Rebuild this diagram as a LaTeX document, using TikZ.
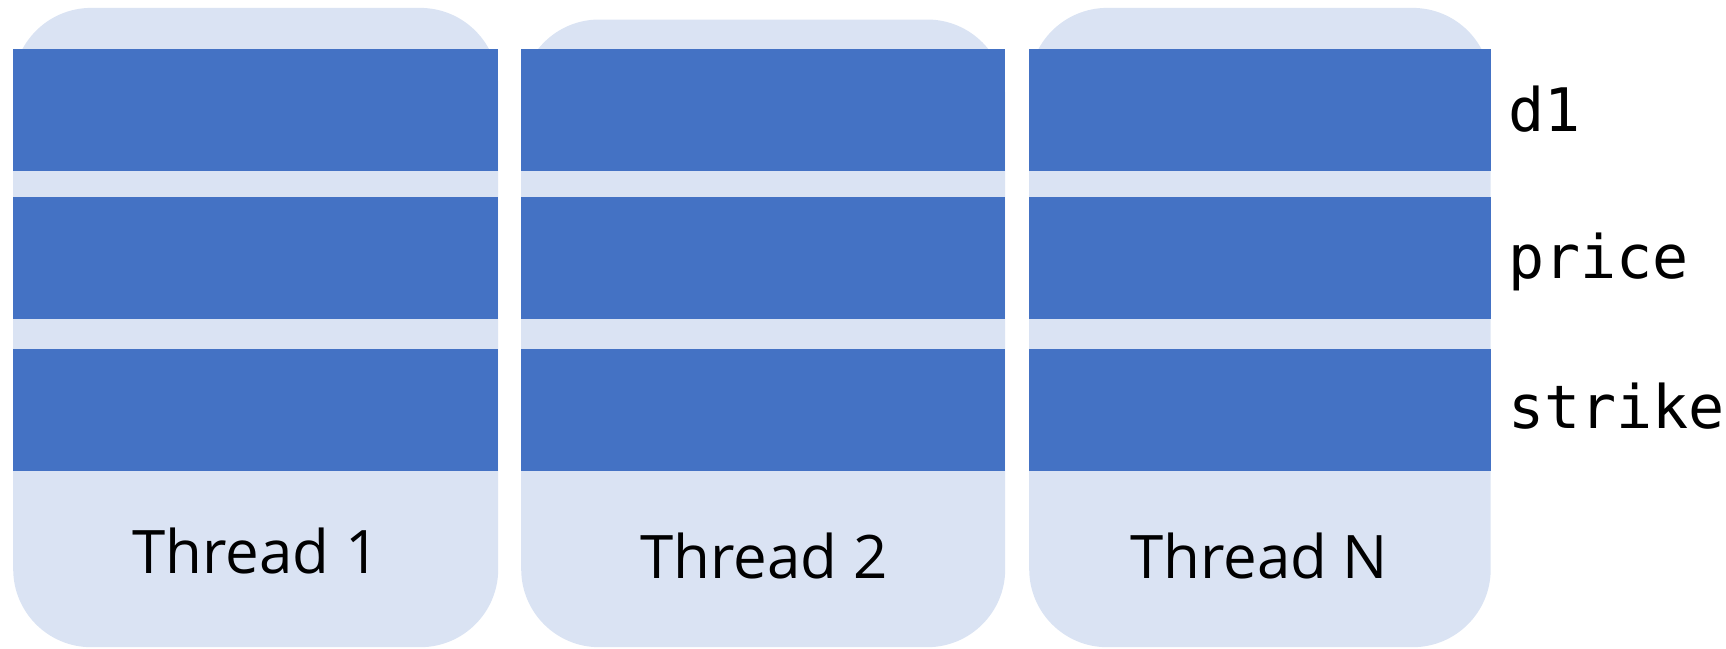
\documentclass[tikz,border=0pt]{standalone}
\usepackage{fontspec}
\setmainfont{Open Sans}
\newfontfamily\codefont{DejaVu Sans Mono}
\definecolor{barblue}{HTML}{4472C4}
\definecolor{lanebg}{HTML}{DAE3F3}
\begin{document}
\begin{tikzpicture}[x=1pt,y=-1pt,
  lane/.style={fill=lanebg, draw=none, rounded corners=78pt, inner sep=0pt,
    anchor=north west, minimum height=#1},
  lane/.default=639.3pt,
  field/.style={fill=barblue, draw=none, inner sep=0pt, anchor=north west,
    minimum height=122pt},
  threadlabel/.style={anchor=base, inner sep=0pt, font=\fontsize{60}{69}\selectfont},
  fieldlabel/.style={anchor=base west, inner sep=0pt, font=\codefont\fontsize{60}{70}\selectfont}]
  \useasboundingbox (0,0) rectangle (1726,648);

  % thread lanes
  \node[lane, minimum width=485pt] (t1) at (13,7.7) {};
  \node[lane=627.7pt, minimum width=484pt] (t2) at (521,19.3) {};
  \node[lane, minimum width=461.5pt] (t3) at (1029,7.7) {};

  % per-thread field slots
  \foreach \t/\x/\w in {1/13/485, 2/521/484, 3/1029/461.5} {
    \node[field, minimum width=\w pt] (f\t a) at (\x,49) {};
    \node[field, minimum width=\w pt] (f\t b) at (\x,197) {};
    \node[field, minimum width=\w pt] (f\t c) at (\x,349) {};
  }

  % thread names
  \node[threadlabel] (n1) at (256,573) {Thread 1};
  \node[threadlabel] (n2) at (764,578.3) {Thread 2};
  \node[threadlabel] (n3) at (1259,578.3) {Thread N};

  % field names
  \node[fieldlabel] (l1) at (1508,131) {d1};
  \node[fieldlabel] (l2) at (1508,278) {price};
  \node[fieldlabel] (l3) at (1508,428) {strike};
\end{tikzpicture}
\end{document}
